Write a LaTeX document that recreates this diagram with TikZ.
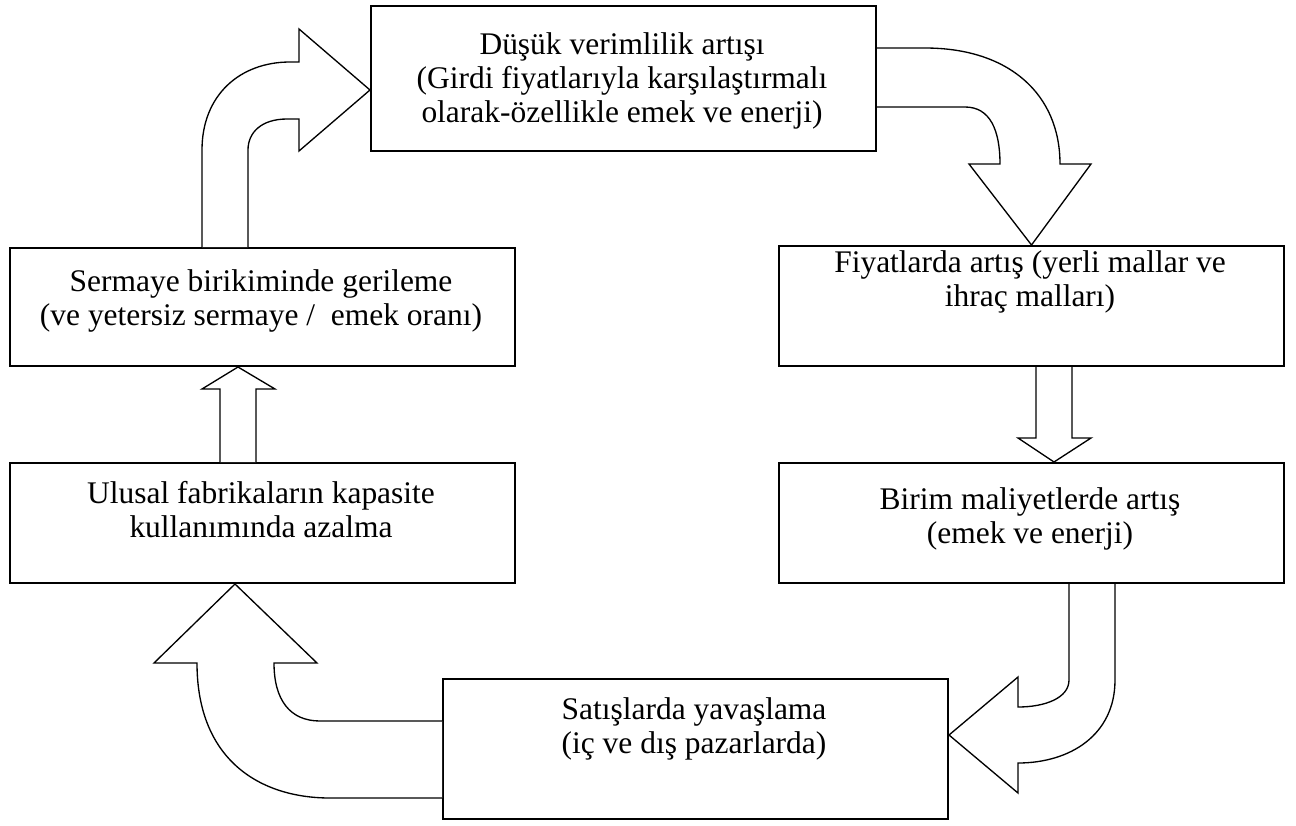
\documentclass[tikz,border=0pt]{standalone}
\usepackage{fontspec}
\setmainfont{Liberation Serif}
\begin{document}
\begin{tikzpicture}[x=0.75pt,y=-0.75pt,
    box/.style={draw, line width=1.5pt, anchor=north west, inner sep=0pt, minimum width=378.75pt},
    txt/.style={align=center, anchor=north, inner sep=0pt, font=\fontsize{23.6}{25.5}\selectfont},
    block/.style={draw, line width=1pt, fill=white, line join=miter}]
  \useasboundingbox (0,0) rectangle (1296,825);
  % kutular
  \node[box, minimum height=108.75pt] (dusuk) at (370,5) {};
  \node[box, minimum height=90pt] (fiyat) at (778,245) {};
  \node[box, minimum height=90pt] (birim) at (778,462) {};
  \node[box, minimum height=105pt] (satis) at (442,678) {};
  \node[box, minimum height=90pt] (ulusal) at (9,462) {};
  \node[box, minimum height=88.5pt] (sermaye) at (9,247) {};
  % metinler
  \node[txt] (dusukt) at (622,32) {Düşük verimlilik artışı\\(Girdi fiyatlarıyla karşılaştırmalı\\olarak-özellikle emek ve enerji)};
  \node[txt] (fiyatt) at (1030,250) {Fiyatlarda artış (yerli mallar ve\\ihraç malları)};
  \node[txt] (birimt) at (1030,487) {Birim maliyetlerde artış\\(emek ve enerji)};
  \node[txt] (satist) at (694,697) {Satışlarda yavaşlama\\(iç ve dış pazarlarda)};
  \node[txt] (ulusalt) at (261,481) {Ulusal fabrikaların kapasite\\kullanımında azalma};
  \node[txt] (sermayet) at (261,269) {Sermaye birikiminde gerileme\\(ve yetersiz sermaye /\ \ emek oranı)};
  % oklar
  \draw[block] (dusuk.east |- 0,48) -- (925,48) .. controls (1010,48) and (1060,95) .. (1060,164)
    -- (1091,164) -- (fiyat.north) -- (969,164) -- (1000,164)
    .. controls (1000,130) and (990,107) .. (965,107) -- (dusuk.east |- 0,107);
  \draw[block] (1036,0 |- fiyat.south) -- (1036,438) -- (1018,438) -- (1054,0 |- birim.north)
    -- (1091,438) -- (1072,438) -- (1072,0 |- fiyat.south);
  \draw[block] (1069,0 |- birim.south) -- (1069,680) .. controls (1069,698) and (1045,707) .. (1018,707)
    -- (1018,677) -- (satis.east |- 0,735) -- (1018,793) -- (1018,763)
    .. controls (1070,763) and (1115,735) .. (1115,680) -- (1115,0 |- birim.south);
  \draw[block] (satis.west |- 0,721) -- (320,721) .. controls (290,721) and (274,700) .. (274,663)
    -- (317,663) -- (235,0 |- ulusal.south) -- (154,663) -- (197,663)
    .. controls (197,760) and (260,798) .. (330,798) -- (satis.west |- 0,798);
  \draw[block] (220,0 |- ulusal.north) -- (220,389) -- (202,389) -- (238,0 |- sermaye.south)
    -- (275,389) -- (256,389) -- (256,0 |- ulusal.north);
  \draw[block] (202,0 |- sermaye.north) -- (202,150) .. controls (202,95) and (240,62) .. (290,62)
    -- (299,62) -- (299,29) -- (dusuk.west |- 0,90) -- (299,151) -- (299,119) -- (287,119)
    .. controls (262,119) and (248,132) .. (248,150) -- (248,0 |- sermaye.north);
\end{tikzpicture}
\end{document}
